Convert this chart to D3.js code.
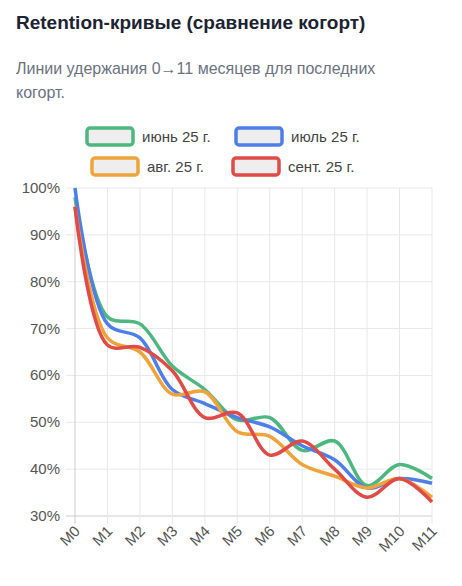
<!DOCTYPE html><html><head><meta charset="utf-8"><script src="https://cdn.jsdelivr.net/npm/d3@7"></script>
<style>body{margin:0;background:#fff;font-family:-apple-system,"Helvetica Neue",Arial,"Liberation Sans",sans-serif}</style></head><body><svg id="c" width="462" height="586"></svg>
<script>
const months=["M0","M1","M2","M3","M4","M5","M6","M7","M8","M9","M10","M11"];
const seriesNames=["июнь 25 г.","июль 25 г.","авг. 25 г.","сент. 25 г."];
const colors=["#4cb77e","#4e7fe8","#eea43a","#e04b47"];
const jun=[98,72.5,71,62,57,50.5,51,44,46,36.5,41,38];
const jul=[100,71,68,57,54,51,49,45,42,36,38,37];
const aug=[96,68,65,56,56.5,48,47,41,38.5,36,38,34];
const sep=[96,66.5,66,61,51,52,43,46,40,34,38,33];
const data=[jun,jul,aug,sep];
const yTicks=[30,40,50,60,70,80,90,100];
const svg=d3.select("#c");
svg.append("text").attr("x",16).attr("y",29).attr("font-size",19).attr("font-weight",700).attr("fill","#1c2333").text("Retention-кривые (сравнение когорт)");
svg.append("text").attr("x",16).attr("y",74).attr("font-size",16).attr("fill","#6b7280").text("Линии удержания 0→11 месяцев для последних");
svg.append("text").attr("x",16).attr("y",98).attr("font-size",16).attr("fill","#6b7280").text("когорт.");
const x=d3.scalePoint().domain(months).range([75,432]);
const y=d3.scaleLinear().domain([30,100]).range([516,188]);
const g=svg.append("g");
g.selectAll(".gy").data(yTicks).join("line").attr("x1",66).attr("x2",432).attr("y1",d=>y(d)).attr("y2",d=>y(d)).attr("stroke",d=>d==30?"#ccc":"#e8e8e8");
g.selectAll(".gx").data(months).join("line").attr("x1",d=>x(d)).attr("x2",d=>x(d)).attr("y1",188).attr("y2",524).attr("stroke",(d,i)=>i==0?"#ccc":"#e8e8e8");
g.selectAll(".yl").data(yTicks).join("text").attr("x",60).attr("y",d=>y(d)+5).attr("text-anchor","end").attr("font-size",15).attr("fill","#555").text(d=>d+"%");
g.selectAll(".xl").data(months).join("text").attr("transform",d=>`translate(${x(d)+6},${532}) rotate(-45)`).attr("text-anchor","end").attr("font-size",15).attr("fill","#555").text(d=>d);
const line=d3.line().x((d,i)=>x(months[i])).y(d=>y(d)).curve(d3.curveCatmullRom.alpha(0.5));
data.forEach((s,i)=>g.append("path").attr("d",line(s)).attr("fill","none").attr("stroke",colors[i]).attr("stroke-width",3.5));
const leg=[[87,128],[236,128],[92,158],[233,158]];
seriesNames.forEach((n,i)=>{const [lx,ly]=leg[i];
 svg.append("rect").attr("x",lx).attr("y",ly).attr("width",46).attr("height",17).attr("rx",3).attr("fill","#eeeeee").attr("stroke",colors[i]).attr("stroke-width",3.5);
 svg.append("text").attr("x",lx+55).attr("y",ly+14).attr("font-size",15).attr("fill","#444").text(n);});
</script></body></html>
